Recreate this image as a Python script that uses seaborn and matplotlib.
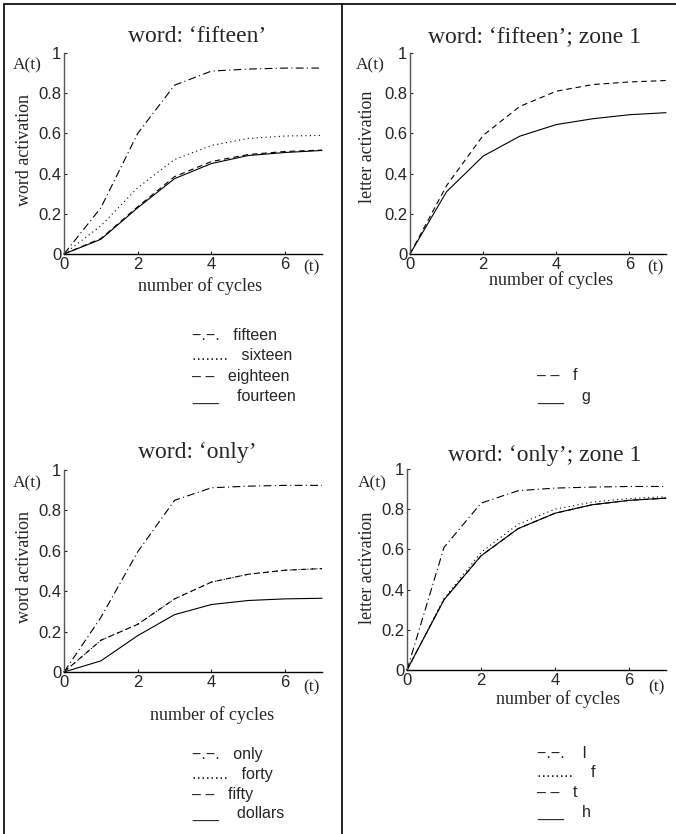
import numpy as np
import matplotlib
matplotlib.use("Agg")
import matplotlib.pyplot as plt
import seaborn as sns
from matplotlib.lines import Line2D

sns.set_style("ticks")
plt.rcParams['font.family'] = ['Liberation Serif', 'DejaVu Serif']

W, H = 676, 834

cycles = [0, 1, 2, 3, 4, 5, 6, 7]

# word: 'fifteen'
fifteen = [0, 0.23, 0.60, 0.84, 0.91, 0.92, 0.925, 0.925]
sixteen = [0, 0.14, 0.33, 0.47, 0.54, 0.575, 0.587, 0.59]
eighteen = [0, 0.077, 0.235, 0.385, 0.46, 0.495, 0.51, 0.517]
fourteen = [0, 0.073, 0.23, 0.375, 0.45, 0.49, 0.505, 0.515]

# word: 'fifteen'; zone 1
letter_f1 = [0, 0.34, 0.59, 0.734, 0.81, 0.843, 0.856, 0.863]
letter_g1 = [0, 0.31, 0.487, 0.586, 0.644, 0.673, 0.693, 0.703]

# word: 'only'
only = [0, 0.27, 0.595, 0.85, 0.912, 0.92, 0.924, 0.924]
forty = [0, 0.157, 0.236, 0.362, 0.445, 0.484, 0.504, 0.512]
fifty = [0, 0.157, 0.236, 0.362, 0.445, 0.484, 0.504, 0.512]
dollars = [0, 0.055, 0.18, 0.284, 0.334, 0.354, 0.362, 0.365]

# word: 'only'; zone 1
letter_l = [0, 0.61, 0.83, 0.892, 0.905, 0.91, 0.913, 0.913]
letter_f2 = [0, 0.355, 0.585, 0.725, 0.80, 0.835, 0.853, 0.862]
letter_t = [0, 0.35, 0.568, 0.703, 0.78, 0.822, 0.844, 0.855]
letter_h = [0, 0.349, 0.568, 0.703, 0.78, 0.822, 0.844, 0.855]

styles = {
    'dashdot': dict(linestyle=(0, (7, 3, 1, 3))),
    'dotted': dict(linestyle=(0, (1, 3))),
    'dashed': dict(linestyle=(0, (5, 3.5))),
    'solid': dict(linestyle='-'),
}

fig = plt.figure(figsize=(W / 100, H / 100), dpi=100)


def px_axes(x0, x1, y0, y1):
    return fig.add_axes([x0 / W, 1 - y1 / H, (x1 - x0) / W, (y1 - y0) / H])


def setup(ax, title, ylabel, pos):
    ax.set_xlim(0, 7)
    ax.set_ylim(0, 1)
    ax.set_xticks([0, 2, 4, 6])
    ax.set_yticks([0, 0.2, 0.4, 0.6, 0.8, 1])
    ax.set_yticklabels(['0', '0.2', '0.4', '0.6', '0.8', '1'])
    ax.tick_params(direction='in', length=2.5, width=0.8, labelsize=12, pad=2)
    for lab in ax.get_xticklabels() + ax.get_yticklabels():
        lab.set_fontfamily('Liberation Sans')
    sns.despine(ax=ax)
    ax.spines['left'].set_color('#555555')
    ax.spines['left'].set_linewidth(1.0)
    ax.spines['bottom'].set_color('black')
    ax.spines['bottom'].set_linewidth(1.0)
    tx, ty, ax_x, ax_y, yl_x, yl_y, xl_x, xl_y, t_x, t_y = pos
    fig.text(tx / W, 1 - ty / H, title, ha='center', va='center', fontsize=17)
    fig.text(ax_x / W, 1 - ax_y / H, 'A(t)', ha='left', va='center', fontsize=12.5)
    fig.text(yl_x / W, 1 - yl_y / H, ylabel, ha='center', va='center',
             rotation=90, fontsize=13)
    fig.text(xl_x / W, 1 - xl_y / H, 'number of cycles', ha='center',
             va='center', fontsize=13)
    fig.text(t_x / W, 1 - t_y / H, '(t)', ha='left', va='center', fontsize=12.5)


def draw(ax, series):
    for vals, st in series:
        sns.lineplot(x=cycles, y=vals, ax=ax, color='black', lw=0.8,
                     clip_on=False, **styles[st])


def legend(x, rows, y0, dy=20):
    for i, (sym, name) in enumerate(rows):
        fig.text(x / W, 1 - (y0 + i * dy) / H, sym + name, ha='left',
                 va='center', fontsize=11.5, family='Liberation Sans')


ax1 = px_axes(64, 322, 53, 254)
draw(ax1, [(fifteen, 'dashdot'), (sixteen, 'dotted'),
           (eighteen, 'dashed'), (fourteen, 'solid')])
setup(ax1, 'word: \u2018fifteen\u2019', 'word activation',
      (197, 37, 13, 65, 25, 150, 200, 286, 303, 267))
legend(192, [('\u2212.\u2212.   ', 'fifteen'), ('........   ', 'sixteen'),
             ('\u2013 \u2013   ', 'eighteen'), ('___    ', 'fourteen')], 336)

ax2 = px_axes(410, 666, 53, 254)
draw(ax2, [(letter_f1, 'dashed'), (letter_g1, 'solid')])
setup(ax2, 'word: \u2018fifteen\u2019; zone 1', 'letter activation',
      (535, 37, 356, 65, 368, 147, 551, 280, 647, 267))
legend(537, [('\u2013 \u2013   ', 'f'), ('___    ', 'g')], 376, 21)

ax3 = px_axes(64, 322, 470, 672)
draw(ax3, [(only, 'dashdot'), (forty, 'dotted'),
           (fifty, 'dashed'), (dollars, 'solid')])
setup(ax3, 'word: \u2018only\u2019', 'word activation',
      (197, 453, 13, 483, 25, 567, 212, 715, 303, 687))
legend(192, [('\u2212.\u2212.   ', 'only'), ('........   ', 'forty'),
             ('\u2013 \u2013   ', 'fifty'), ('___    ', 'dollars')], 755, 19.5)

ax4 = px_axes(407, 666, 469, 670)
draw(ax4, [(letter_l, 'dashdot'), (letter_f2, 'dotted'),
           (letter_t, 'dashed'), (letter_h, 'solid')])
setup(ax4, 'word: \u2018only\u2019; zone 1', 'letter activation',
      (545, 455, 358, 483, 368, 568, 558, 699, 648, 687))
legend(537, [('\u2212.\u2212.    ', 'l'), ('........    ', 'f'),
             ('\u2013 \u2013   ', 't'), ('___    ', 'h')], 753, 19.7)

# table frame
for (xa, ya), (xb, yb) in [((4, 4), (676, 4)), ((4, 4), (4, 834)),
                           ((342, 4), (342, 834))]:
    fig.add_artist(Line2D([xa / W, xb / W], [1 - ya / H, 1 - yb / H],
                          transform=fig.transFigure, color='black', lw=1.2))

fig.savefig('out.png', dpi=100)
